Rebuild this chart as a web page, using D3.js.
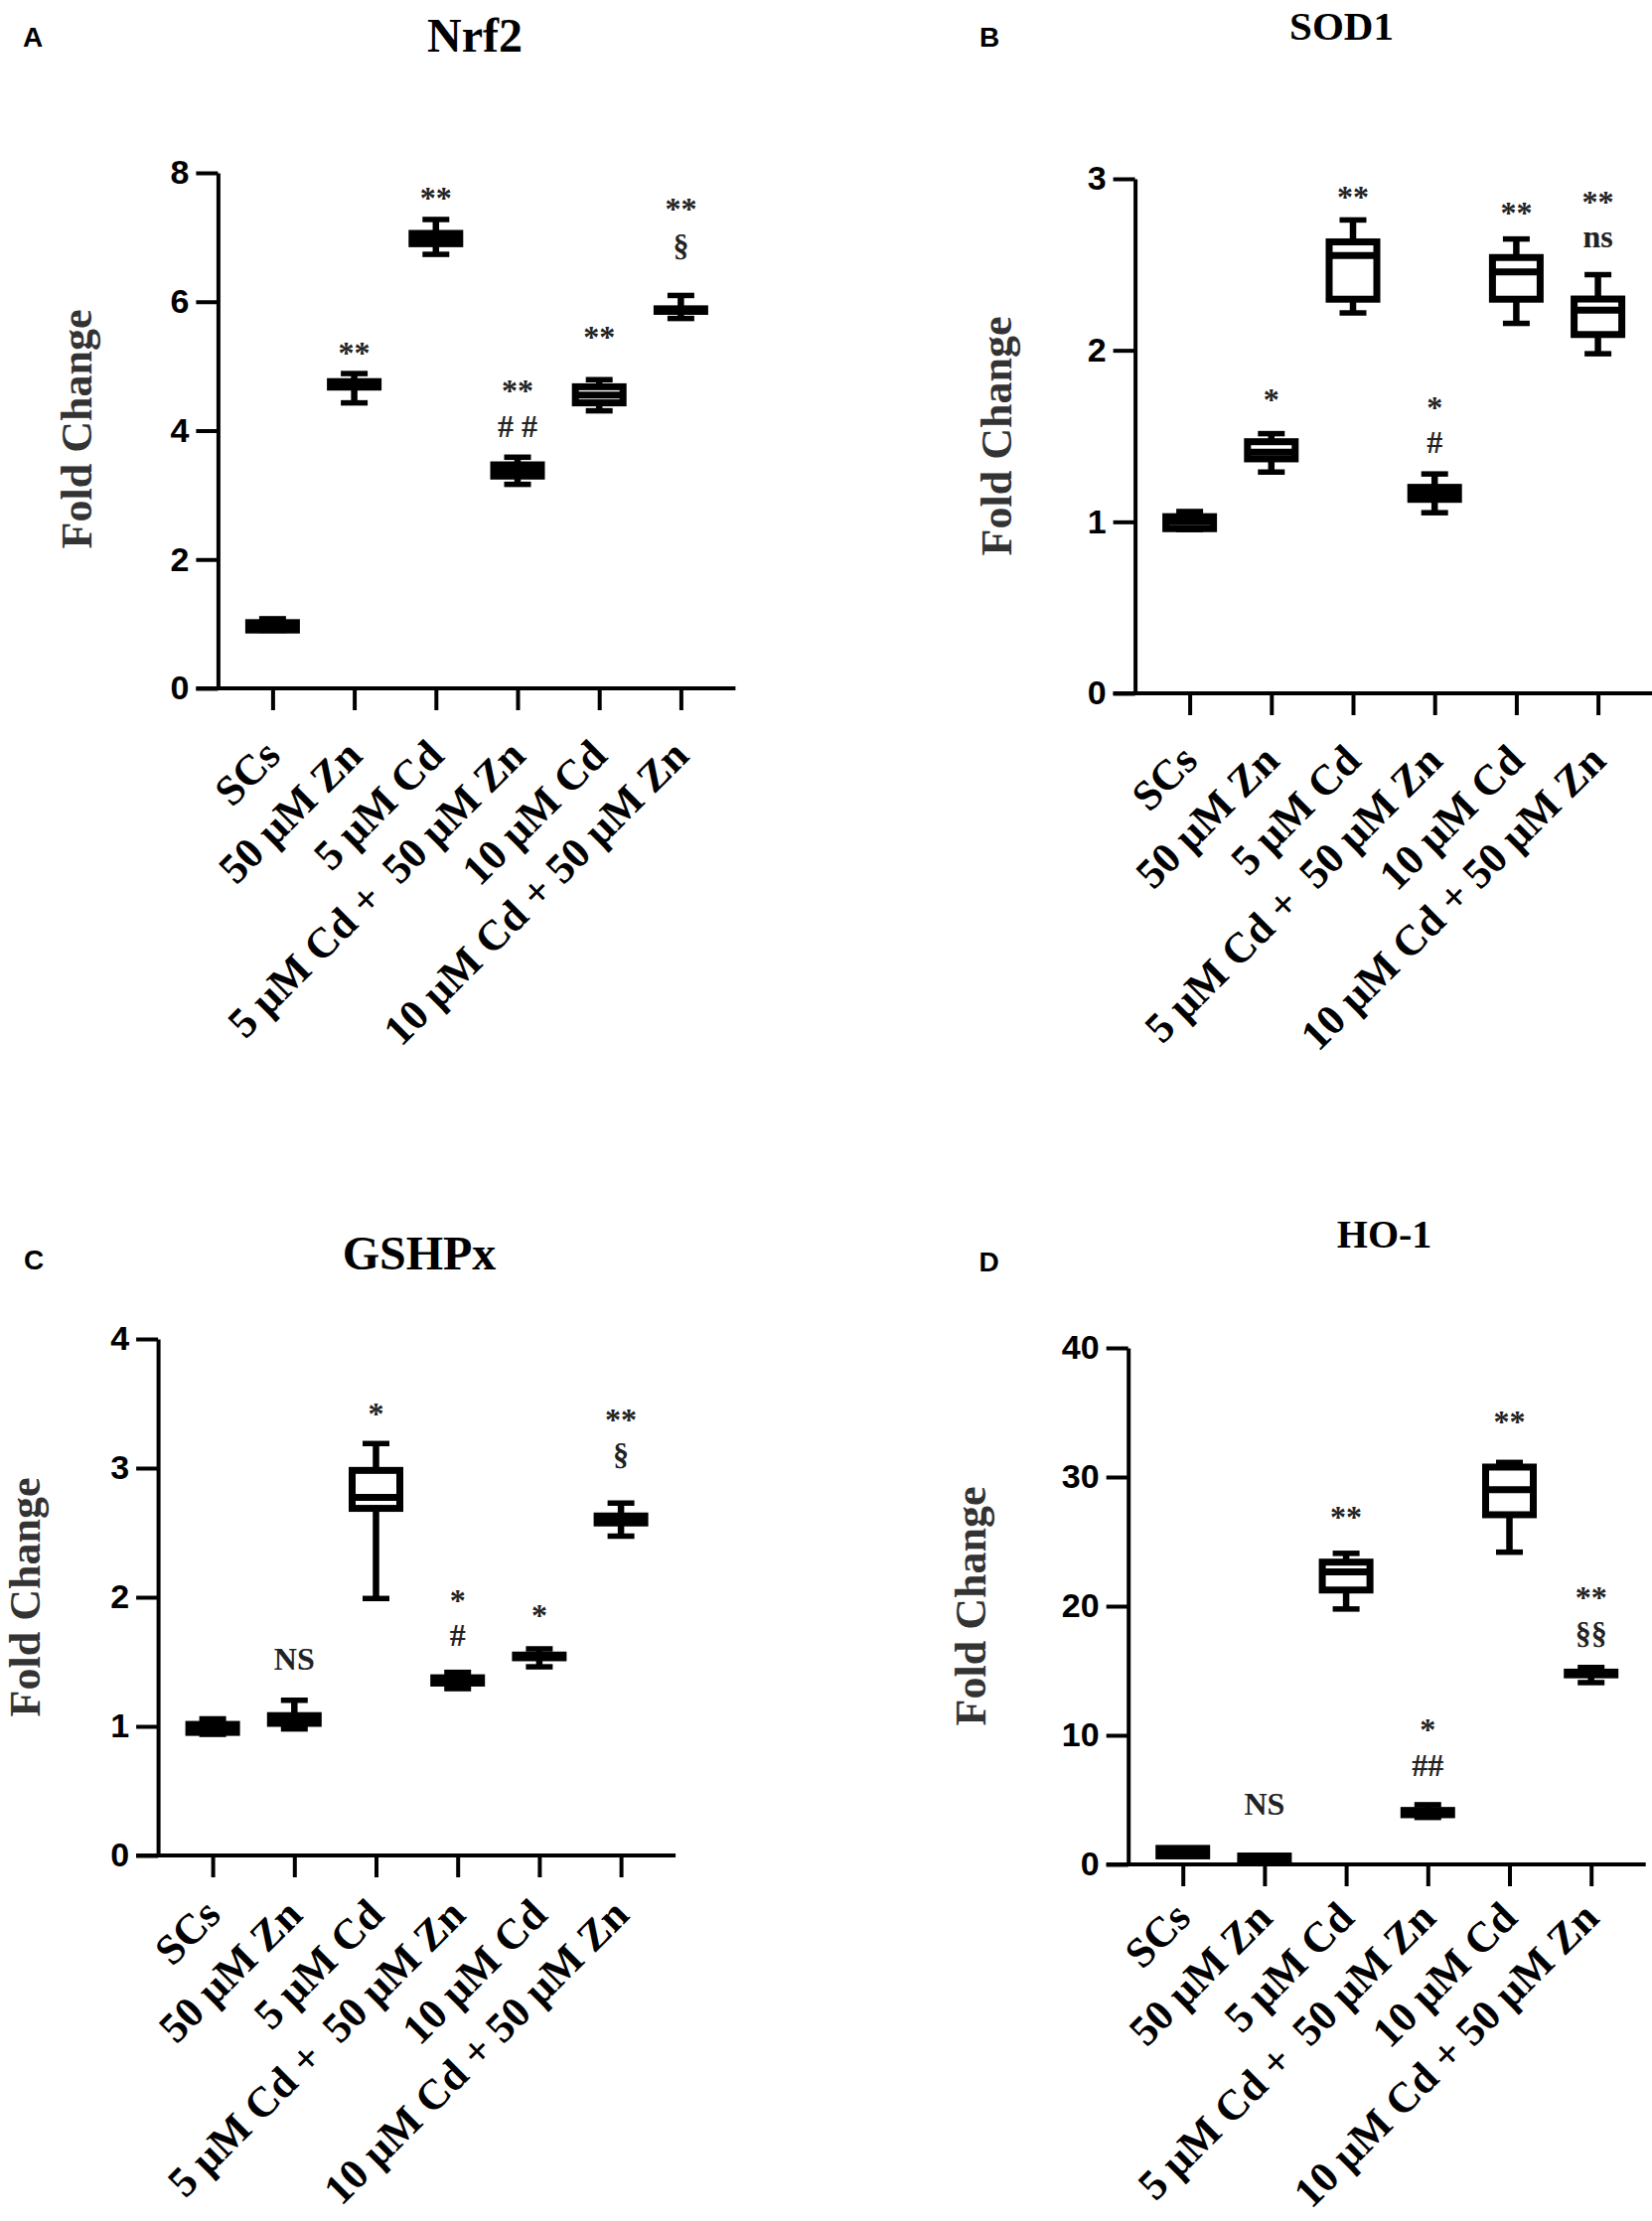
<!DOCTYPE html>
<html>
<head>
<meta charset="utf-8">
<script src="https://cdn.jsdelivr.net/npm/d3@7"></script>
<style>
  body { margin: 0; background: #fff; }
  text { white-space: pre; }
</style>
</head>
<body>
<div id="fig"></div>
<script>
const W = 1663, H = 2236;

// groups on the x axis (same in every panel)
const groups = ["SCs", "50 μM Zn", "5 μM Cd", "5 μM Cd + \u00a050 μM Zn", "10 μM Cd", "10 μM Cd + 50 μM Zn"];

// box stats per group: [min, q1, median, q3, max]
const nrf2Stats = [
  [0.90, 0.905, 0.98, 1.02, 1.08],
  [4.43, 4.675, 4.72, 4.76, 4.885],
  [6.735, 6.90, 6.98, 7.06, 7.276],
  [3.166, 3.294, 3.38, 3.468, 3.587],
  [4.307, 4.43, 4.55, 4.68, 4.79],
  [5.74, 5.85, 5.87, 5.89, 6.097]
];
const sod1Stats = [
  [0.955, 0.96, 1.0, 1.03, 1.06],
  [1.29, 1.367, 1.406, 1.467, 1.514],
  [2.218, 2.298, 2.552, 2.632, 2.76],
  [1.053, 1.131, 1.165, 1.201, 1.279],
  [2.157, 2.298, 2.457, 2.541, 2.649],
  [1.98, 2.092, 2.234, 2.299, 2.441]
];
const gshpxStats = [
  [0.938, 0.953, 0.99, 1.015, 1.058],
  [0.98, 1.023, 1.05, 1.083, 1.202],
  [1.99, 2.688, 2.774, 2.982, 3.19],
  [1.292, 1.335, 1.355, 1.376, 1.418],
  [1.461, 1.531, 1.54, 1.552, 1.60],
  [2.473, 2.575, 2.60, 2.629, 2.729]
];
const ho1Stats = [
  [0.65, 0.66, 1.0, 1.24, 1.25],
  [0.15, 0.17, 0.45, 0.65, 0.66],
  [19.78, 21.25, 22.66, 23.41, 24.09],
  [3.64, 3.85, 4.0, 4.18, 4.62],
  [24.18, 27.08, 29.02, 30.77, 31.13],
  [14.08, 14.68, 14.8, 14.89, 15.25]
];

// significance marks: [group index, text, level (baseline, in y units)]
const nrf2Notes = [[1, "**", 5.04], [2, "**", 7.45], [3, "**", 4.45], [3, "# #", 3.90],
                   [4, "**", 5.28], [5, "**", 7.27], [5, "§", 6.70]];
const sod1Notes = [[1, "*", 1.649], [2, "**", 2.832], [3, "*", 1.607], [3, "#", 1.40],
                   [4, "**", 2.737], [5, "**", 2.802], [5, "ns", 2.602]];
const gshpxNotes = [[1, "NS", 1.44], [2, "*", 3.342], [3, "*", 1.891], [3, "#", 1.621],
                    [4, "*", 1.774], [5, "**", 3.293], [5, "§", 3.025]];
const ho1Notes = [[1, "NS", 3.82], [2, "**", 26.07], [3, "*", 9.6], [3, "##", 6.86],
                  [4, "**", 33.43], [5, "**", 19.83], [5, "§§", 17.05]];

// y ticks
const nrf2Ticks = [0, 2, 4, 6, 8];
const sod1Ticks = [0, 1, 2, 3];
const gshpxTicks = [0, 1, 2, 3, 4];
const ho1Ticks = [0, 10, 20, 30, 40];

const titles = ["Nrf2", "SOD1", "GSHPx", "HO-1"];
const letters = ["A", "B", "C", "D"];
const yLabel = "Fold Change";

const serif = "'Liberation Serif', 'Times New Roman', serif";
const sans = "'Liberation Sans', Arial, sans-serif";

// panel placement on the page
const panels = [
  { stats: nrf2Stats, notes: nrf2Notes, ticks: nrf2Ticks, ax: 219.4, y0: 693, yTop: 174, labDy: 70,
    title: [478, 52, 48], letter: [23, 47], ylab: [91.7, 432] },
  { stats: sod1Stats, notes: sod1Notes, ticks: sod1Ticks, ax: 1142.6, y0: 698, yTop: 180, labDy: 70,
    title: [1350.5, 40, 41], letter: [986, 47], ylab: [1018, 439] },
  { stats: gshpxStats, notes: gshpxNotes, ticks: gshpxTicks, ax: 159.1, y0: 1868, yTop: 1348, labDy: 62,
    title: [422, 1278, 48], letter: [24, 1278], ylab: [40, 1608] },
  { stats: ho1Stats, notes: ho1Notes, ticks: ho1Ticks, ax: 1135.7, y0: 1877, yTop: 1357, labDy: 56,
    title: [1393.6, 1256, 40], letter: [985.5, 1280], ylab: [991.5, 1617] }
];

const svg = d3.select("#fig").append("svg")
  .attr("width", W).attr("height", H)
  .attr("viewBox", [0, 0, W, H]);

panels.forEach((p, k) => {
  const g = svg.append("g");

  const x = d3.scalePoint()
    .domain(groups)
    .range([p.ax + 55, p.ax + 55 + 5 * 82.2]);

  const y = d3.scaleLinear()
    .domain([0, d3.max(p.ticks)])
    .range([p.y0, p.yTop]);

  // y axis
  const yAxis = d3.axisLeft(y)
    .tickValues(p.ticks)
    .tickSize(22)
    .tickSizeOuter(0)
    .tickPadding(7)
    .tickFormat(d3.format("d"));

  const ya = g.append("g")
    .attr("transform", `translate(${p.ax},0)`)
    .call(yAxis);
  ya.selectAll("path, line").attr("stroke", "#000").attr("stroke-width", 4);
  ya.selectAll("text")
    .attr("font-family", sans).attr("font-weight", "bold")
    .attr("font-size", 34).attr("fill", "#000");

  // x axis line + ticks
  g.append("line")
    .attr("x1", p.ax - 22).attr("x2", p.ax + 521)
    .attr("y1", y(0)).attr("y2", y(0))
    .attr("stroke", "#000").attr("stroke-width", 4);

  const xAxis = d3.axisBottom(x).tickSize(22).tickSizeOuter(0).tickFormat("");
  const xa = g.append("g")
    .attr("transform", `translate(0,${y(0)})`)
    .call(xAxis);
  xa.select(".domain").remove();
  xa.selectAll("line").attr("stroke", "#000").attr("stroke-width", 4);

  // x labels, rotated
  g.selectAll(".xlab")
    .data(groups)
    .join("text")
    .attr("class", "xlab")
    .attr("transform", d => `translate(${x(d) + 10},${y(0) + p.labDy}) rotate(-45)`)
    .attr("text-anchor", "end")
    .attr("font-family", serif).attr("font-weight", "bold")
    .attr("font-size", 43).attr("fill", "#000")
    .text(d => d);

  // boxes
  const boxes = g.selectAll(".box")
    .data(p.stats)
    .join("g")
    .attr("class", "box")
    .attr("transform", (d, i) => `translate(${x(groups[i])},0)`);

  boxes.append("line")
    .attr("y1", d => y(d[4])).attr("y2", d => y(d[0]))
    .attr("stroke", "#000").attr("stroke-width", 6.5);

  boxes.selectAll(".cap")
    .data(d => [d[0], d[4]])
    .join("line")
    .attr("class", "cap")
    .attr("x1", -13.5).attr("x2", 13.5)
    .attr("y1", v => y(v)).attr("y2", v => y(v))
    .attr("stroke", "#000").attr("stroke-width", 5.5);

  boxes.append("rect")
    .attr("x", -24).attr("width", 48)
    .attr("y", d => y(d[3]))
    .attr("height", d => y(d[1]) - y(d[3]))
    .attr("fill", "#fff")
    .attr("stroke", "#000").attr("stroke-width", 7);

  boxes.append("line")
    .attr("x1", -24).attr("x2", 24)
    .attr("y1", d => y(d[2])).attr("y2", d => y(d[2]))
    .attr("stroke", "#000").attr("stroke-width", 7);

  // significance marks
  g.selectAll(".note")
    .data(p.notes)
    .join("text")
    .attr("class", "note")
    .attr("x", d => x(groups[d[0]]))
    .attr("y", d => y(d[2]))
    .attr("text-anchor", "middle")
    .attr("font-family", serif).attr("font-weight", "bold")
    .attr("font-size", 32).attr("fill", "#222")
    .text(d => d[1]);

  // y label
  g.append("text")
    .attr("transform", `translate(${p.ylab[0]},${p.ylab[1]}) rotate(-90)`)
    .attr("text-anchor", "middle")
    .attr("font-family", serif).attr("font-weight", "bold")
    .attr("font-size", 44).attr("fill", "#333")
    .text(yLabel);

  // title
  g.append("text")
    .attr("x", p.title[0]).attr("y", p.title[1])
    .attr("text-anchor", "middle")
    .attr("font-family", serif).attr("font-weight", "bold")
    .attr("font-size", p.title[2]).attr("fill", "#000")
    .text(titles[k]);

  // panel letter
  g.append("text")
    .attr("x", p.letter[0]).attr("y", p.letter[1])
    .attr("font-family", sans).attr("font-weight", "bold")
    .attr("font-size", 28).attr("fill", "#000")
    .text(letters[k]);
});
</script>
</body>
</html>
